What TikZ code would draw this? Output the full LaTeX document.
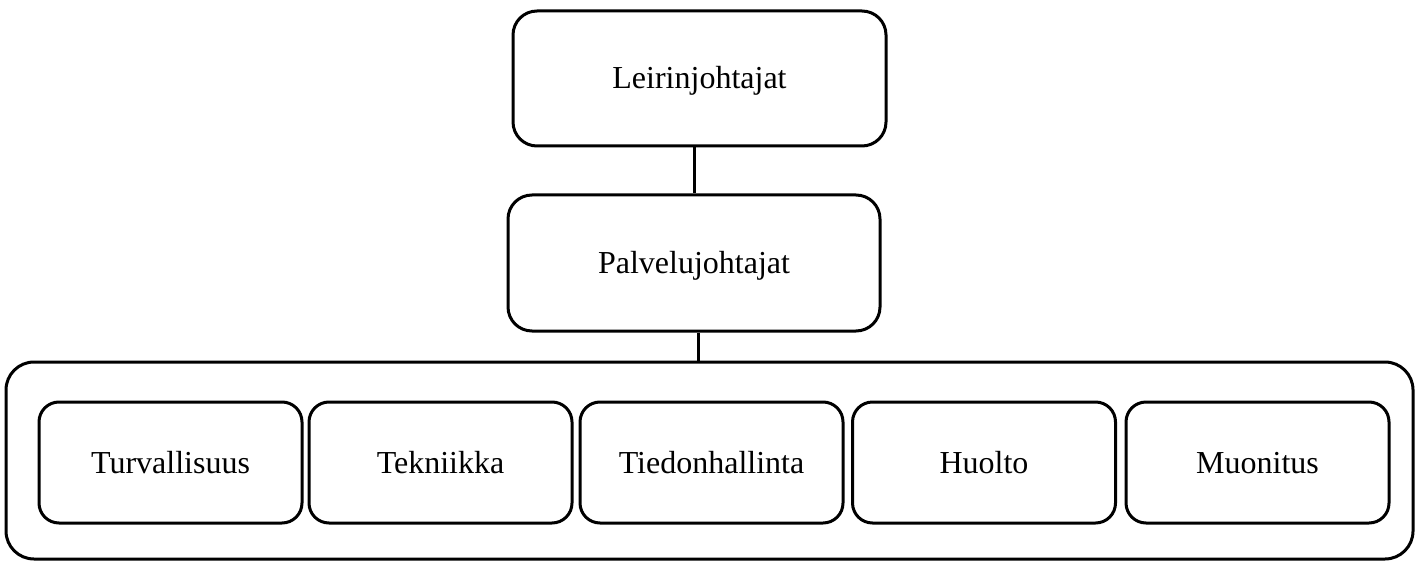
\documentclass[tikz,border=0pt]{standalone}
\usepackage{fontspec}
\setmainfont{Liberation Serif}
\usetikzlibrary{calc}
\tikzset{laatikko/.style={draw, line width=1.5pt, rounded corners=12pt, align=center, text height=14.5pt, text depth=4pt, font=\fontsize{16}{19}\selectfont},
	yksikko/.style={laatikko, rounded corners=10pt, minimum width=131.5pt, minimum height=60.5pt}}

\begin{document}
\begin{tikzpicture}[x=0.5pt, y=-0.5pt]
		\useasboundingbox (0,0) rectangle (1416,561);
		\node[laatikko, minimum width=186.5pt, minimum height=67.5pt] (leiri) at (699.5,78.5) {Leirinjohtajat};
		\node[laatikko, minimum width=186pt, minimum height=68pt] (palvelu) at (694,263) {Palvelujohtajat};
		\node[laatikko, rounded corners=14pt, minimum width=703.5pt, minimum height=98.5pt] (ryhma) at (709.5,460.5) {};
		\foreach \nimi/\x/\teksti in {turva/170.5/Turvallisuus, tekn/440.5/Tekniikka, tieto/711.5/Tiedonhallinta, huolto/984/Huolto, muon/1257.5/Muonitus}
			\node[yksikko] (\nimi) at (\x,462.5) {\teksti};
		\draw[line width=1.5pt] (palvelu.north |- leiri.south)--(palvelu.north);
		\draw[line width=1.5pt] ($(palvelu.south)+(4,0)$)--($(palvelu.south |- ryhma.north)+(4,0)$);
		\end{tikzpicture}
\end{document}
